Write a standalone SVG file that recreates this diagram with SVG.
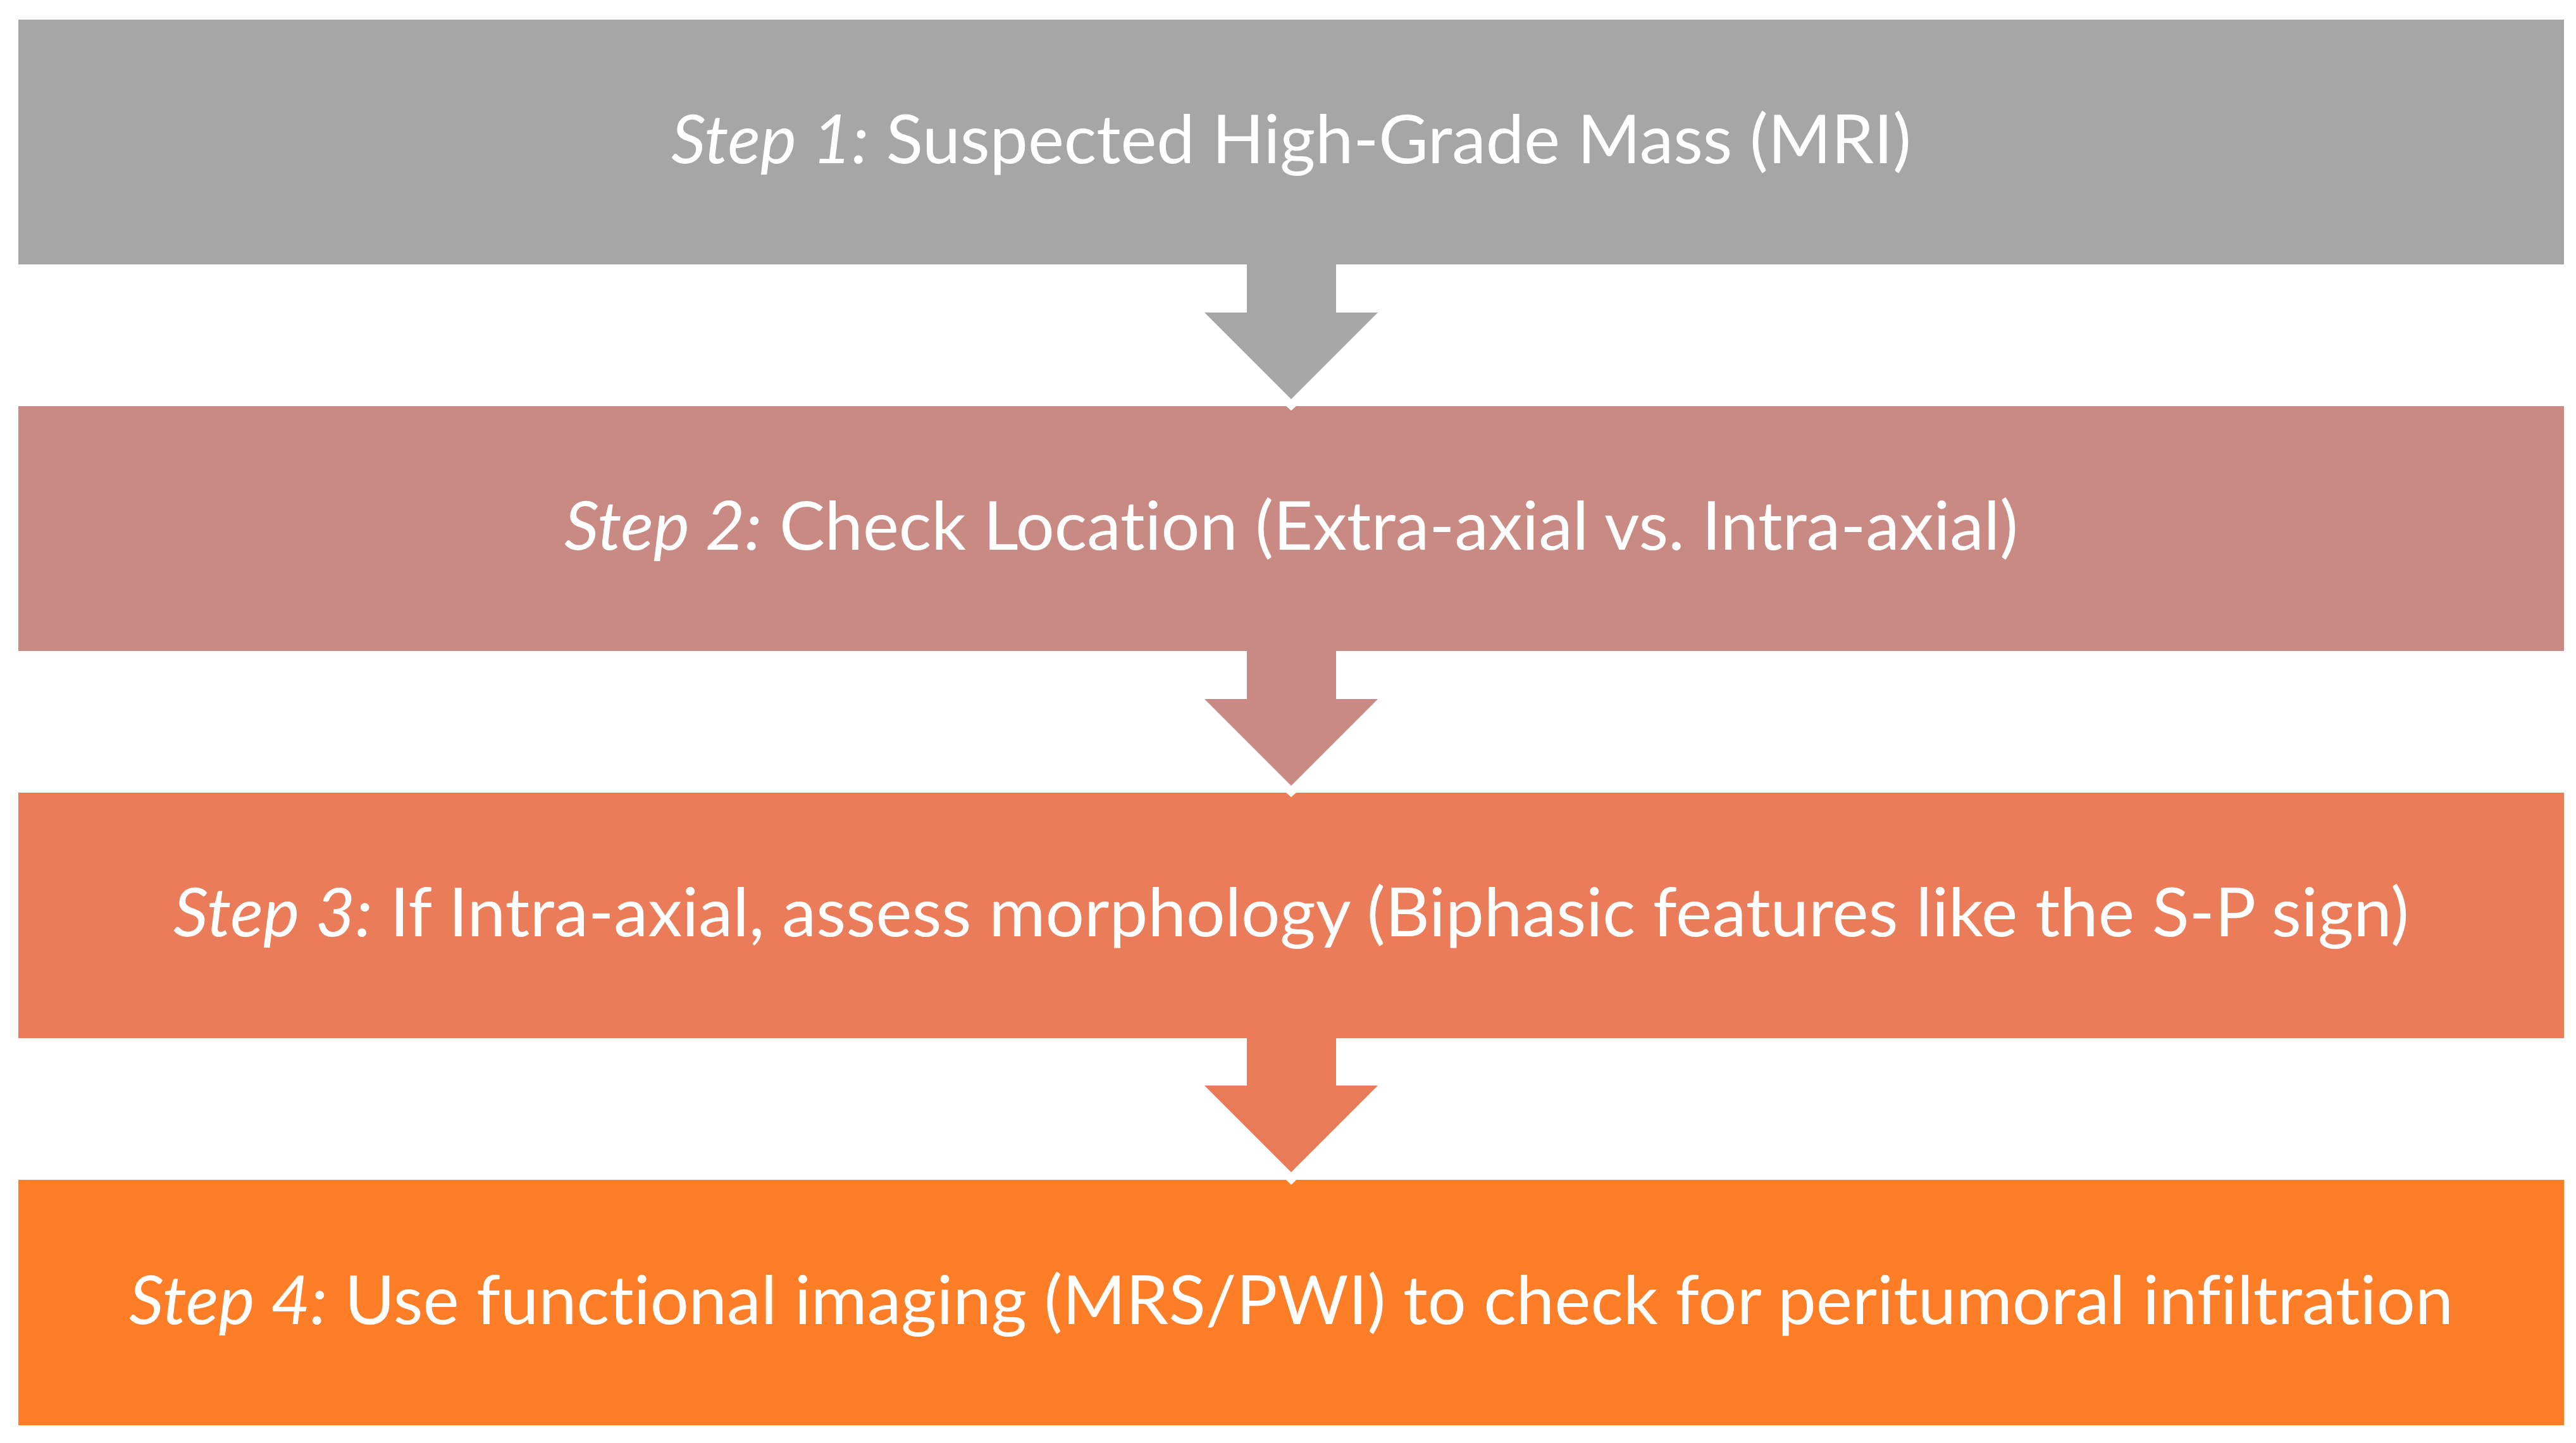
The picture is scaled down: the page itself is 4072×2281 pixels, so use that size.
<svg xmlns="http://www.w3.org/2000/svg" width="4072" height="2281" viewBox="0 0 4072 2281">
<style>
.t{font-family:Lato,"Open Sans","Liberation Sans",sans-serif;font-size:106px;fill:#fff;text-anchor:middle;font-variant-ligatures:none;font-feature-settings:"liga" 0,"dlig" 0}
.i{font-style:italic}
</style>
<rect width="4072" height="2281" fill="#fff"/>
<g id="connectors">
<polygon points="1971,410 2112,410 2112,494 2178,494 2041,631 1904,494 1971,494" fill="#A6A6A6"/>
<polygon points="1971,1021 2112,1021 2112,1105 2178,1105 2041,1242 1904,1105 1971,1105" fill="#C98A84"/>
<polygon points="1971,1632 2112,1632 2112,1716 2178,1716 2041,1853 1904,1716 1971,1716" fill="#EB7C5A"/>
</g>
<g id="node1">
<rect x="29" y="31" width="4024" height="387" fill="#A6A6A6"/>
<text class="t" x="2041" y="258" textLength="1960" lengthAdjust="spacingAndGlyphs"><tspan class="i">Step 1:</tspan> Suspected High-Grade Mass (MRI)</text>
</g>
<g id="node2">
<rect x="29" y="642" width="4024" height="387" fill="#C98A84"/>
<polygon points="2033,642 2049,642 2041,649" fill="#fff"/>
<text class="t" x="2041" y="869" textLength="2298" lengthAdjust="spacingAndGlyphs"><tspan class="i">Step 2:</tspan> Check Location (Extra-axial vs. Intra-axial)</text>
</g>
<g id="node3">
<rect x="29" y="1253" width="4024" height="388" fill="#EB7C5A"/>
<polygon points="2033,1253 2049,1253 2041,1260" fill="#fff"/>
<text class="t" x="2041" y="1480" textLength="3534" lengthAdjust="spacingAndGlyphs"><tspan class="i">Step 3:</tspan> If Intra-axial, assess morphology (Biphasic features like the S-P sign)</text>
</g>
<g id="node4">
<rect x="29" y="1865" width="4024" height="388" fill="#FE7E27"/>
<polygon points="2033,1865 2049,1865 2041,1873" fill="#fff"/>
<text class="t" x="2041" y="2093" textLength="3674" lengthAdjust="spacingAndGlyphs"><tspan class="i">Step 4:</tspan> Use functional imaging (MRS/PWI) to check for peritumoral infiltration</text>
</g>
</svg>
